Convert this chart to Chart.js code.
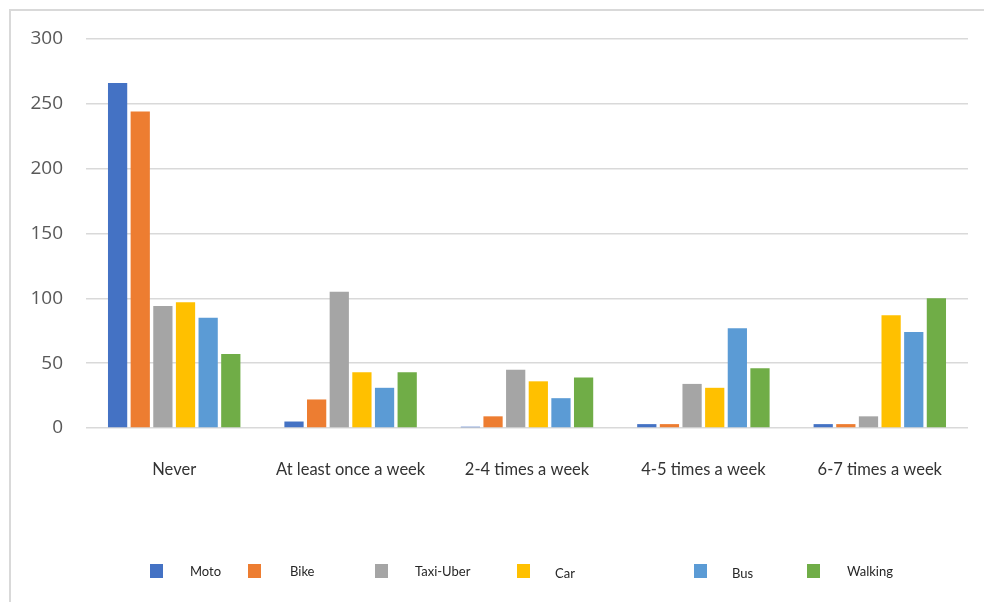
<!DOCTYPE html>
<html>
<head>
<meta charset="utf-8">
<script src="https://cdn.jsdelivr.net/npm/chart.js@4.4.1/dist/chart.umd.min.js"></script>
<style>
  html, body { margin: 0; padding: 0; background: #fff; }
  #wrap { position: relative; width: 984px; height: 602px; overflow: hidden; }
  #frame { position: absolute; left: 9px; top: 9px; right: -4px; bottom: -4px;
           border-left: 2px solid #d9d9d9; border-top: 2px solid #d9d9d9; }
  canvas { position: absolute; left: 0; top: 0; }
  .lg-box { position: absolute; width: 13px; height: 14px; }
  .lg-txt { position: absolute; font: 13px Lato, sans-serif; color: #262626; line-height: 16px; }
</style>
</head>
<body>
<div id="wrap">
  <div id="frame"></div>
  <canvas id="c" width="984" height="602"></canvas>
  <div id="legend"></div>
</div>
<script>
// Frequency of use per transport mode
const categories = ["Never", "At least once a week", "2-4 times a week", "4-5 times a week", "6-7 times a week"];
const moto    = [266, 5, 1, 3, 3];
const bike    = [244, 22, 9, 3, 3];
const taxiUber = [94, 105, 45, 34, 9];
const car     = [97, 43, 36, 31, 87];
const bus     = [85, 31, 23, 77, 74];
const walking = [57, 43, 39, 46, 100];
const yTicks  = [0, 50, 100, 150, 200, 250, 300];

const seriesNames  = ["Moto", "Bike", "Taxi-Uber", "Car", "Bus", "Walking"];
const seriesValues = [moto, bike, taxiUber, car, bus, walking];
const seriesColors = ["#4472C4", "#ED7D31", "#A5A5A5", "#FFC000", "#5B9BD5", "#70AD47"];

const chart = new Chart(document.getElementById("c"), {
  type: "bar",
  data: {
    labels: categories,
    datasets: seriesNames.map((name, i) => ({
      label: name,
      data: seriesValues[i],
      backgroundColor: seriesColors[i],
      borderWidth: 0,
      barPercentage: 0.85,
      categoryPercentage: 0.77
    }))
  },
  options: {
    responsive: false,
    animation: false,
    devicePixelRatio: 1,
    layout: { padding: { top: 39, right: 16, bottom: 0, left: 0 } },
    plugins: { legend: { display: false }, tooltip: { enabled: false } },
    scales: {
      x: {
        grid: { display: false, drawTicks: false },
        border: { display: false },
        ticks: { font: { family: "Lato", size: 16.5 }, color: "#333333", padding: 32, maxRotation: 0 },
        afterFit: (s) => { s.height = 174; }
      },
      y: {
        min: 0, max: 300,
        afterBuildTicks: (s) => { s.ticks = yTicks.map(v => ({ value: v })); },
        grid: { color: "#d9d9d9", lineWidth: 1.5, drawTicks: false },
        border: { display: false },
        ticks: { font: { family: "Open Sans", size: 19 }, color: "#595959", padding: 23 },
        afterFit: (s) => { s.width = 86; }
      }
    }
  }
});

// Legend entries, laid out along the bottom
const legendBoxX  = [150, 248, 375, 517, 694, 807];
const legendTextX = [190, 290, 415, 555, 732, 847];
const legendTextY = [563, 563, 563, 565, 565, 563];
const legend = document.getElementById("legend");
chart.data.datasets.forEach((ds, i) => {
  const box = document.createElement("div");
  box.className = "lg-box";
  box.style.left = legendBoxX[i] + "px";
  box.style.top = "564px";
  box.style.background = ds.backgroundColor;
  legend.appendChild(box);
  const txt = document.createElement("div");
  txt.className = "lg-txt";
  txt.style.left = legendTextX[i] + "px";
  txt.style.top = legendTextY[i] + "px";
  txt.textContent = ds.label;
  legend.appendChild(txt);
});
</script>
</body>
</html>
